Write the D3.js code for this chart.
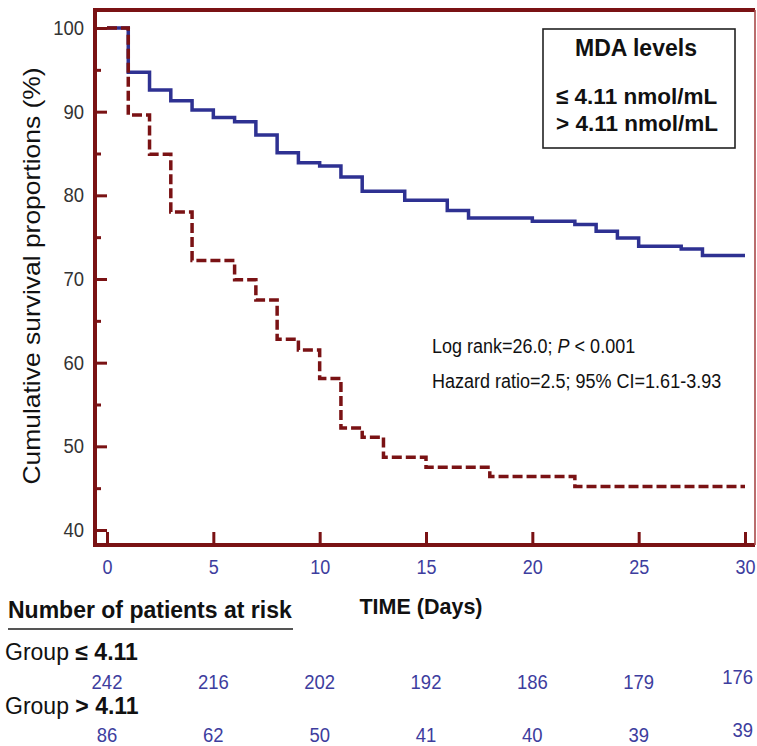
<!DOCTYPE html>
<html>
<head>
<meta charset="utf-8">
<script src="https://cdn.jsdelivr.net/npm/d3@7"></script>
<style>
  html, body { margin: 0; padding: 0; background: #fff; }
  svg { display: block; }
  text { font-family: "Liberation Sans", Arial, sans-serif; }
</style>
</head>
<body>
<svg id="chart" width="757" height="746"></svg>
<script>
// ---------------- data ----------------
const riskDays = [0, 5, 10, 15, 20, 25, 30];
const riskLow  = [242, 216, 202, 192, 186, 179, 176];
const riskHigh = [86, 62, 50, 41, 40, 39, 39];

const yTickValues = [40, 50, 60, 70, 80, 90, 100];
const yMinorValues = [45, 55, 65, 75, 85, 95];
const xTickValues = [0, 5, 10, 15, 20, 25, 30];

// Kaplan-Meier steps, group <= 4.11 nmol/mL
const lowTimes = [0, 1, 2, 3, 4, 5, 6, 7, 8, 9, 10, 11, 12, 14, 16, 17, 20, 22, 23, 24, 25, 27, 28, 30];
const lowSurv  = [100, 94.7, 92.6, 91.3, 90.2, 89.3, 88.8, 87.2, 85.1, 83.9, 83.5, 82.2, 80.5, 79.4, 78.2, 77.3, 76.9, 76.5, 75.7, 74.9, 73.9, 73.6, 72.8, 72.8];
// group > 4.11 nmol/mL
const highTimes = [0, 1, 2, 3, 4, 6, 7, 8, 9, 10, 11, 12, 13, 15, 18, 22, 30];
const highSurv  = [100, 89.6, 84.9, 78.0, 72.2, 69.9, 67.5, 62.8, 61.5, 58.1, 52.2, 51.1, 48.7, 47.5, 46.4, 45.2, 45.2];

const legendTitle = "MDA levels";
const legendLabels = ["\u2264 4.11 nmol/mL", "> 4.11 nmol/mL"];
const annotations = ["Log rank=26.0; ", "Hazard ratio=2.5; 95% CI=1.61-3.93"];

// ---------------- layout ----------------
const W = 757, H = 746;
const S = 1.12;               // vertical stretch of the original text
const frame = { left: 95, right: 755, top: 10, bottom: 545 };
const maroon = "#7a1214";
const navy = "#2e3192";
const tickBlue = "#3d3d9e";

const svg = d3.select("#chart");

const x = d3.scaleLinear().domain([0, 30]).range([107, 745]);
const y = d3.scaleLinear().domain([40, 100]).range([530, 28]);

function txt(px, py, str, o = {}) {
  const t = svg.append("text")
    .attr("transform", `translate(${px},${py}) scale(1,${o.s || S})${o.rot ? ` rotate(${o.rot})` : ""}`)
    .attr("font-size", o.size || 18)
    .attr("font-weight", o.weight || "normal")
    .attr("fill", o.fill || "#111")
    .attr("text-anchor", o.anchor || "start")
    .text(str);
  return t;
}

// ---------------- curves ----------------
const line = d3.line().curve(d3.curveStepAfter).x(d => x(d[0])).y(d => y(d[1]));

svg.append("path")
  .datum(lowTimes.map((t, i) => [t, lowSurv[i]]))
  .attr("d", line)
  .attr("fill", "none")
  .attr("stroke", navy)
  .attr("stroke-width", 3.5);

svg.append("path")
  .datum(highTimes.map((t, i) => [t, highSurv[i]]))
  .attr("d", line)
  .attr("fill", "none")
  .attr("stroke", maroon)
  .attr("stroke-width", 3.5)
  .attr("stroke-dasharray", "10,4");

// ---------------- axes ----------------
const yAxis = svg.append("g")
  .attr("transform", `translate(${frame.left},0)`)
  .call(d3.axisLeft(y).tickValues(yTickValues).tickSize(-12).tickPadding(11).tickFormat(d3.format("d")));
yAxis.select(".domain").remove();
yAxis.selectAll("line").attr("stroke", maroon).attr("stroke-width", 3);
yAxis.selectAll("text").attr("font-size", 18.5).attr("fill", "#333")
  .attr("font-family", "Liberation Sans, Arial, sans-serif")
  .attr("transform", `scale(1,${S})`);

const yMinor = svg.append("g")
  .attr("transform", `translate(${frame.left},0)`)
  .call(d3.axisLeft(y).tickValues(yMinorValues).tickSize(-6).tickFormat(""));
yMinor.select(".domain").remove();
yMinor.selectAll("line").attr("stroke", maroon).attr("stroke-width", 3);

const xAxis = svg.append("g")
  .attr("transform", `translate(0,${frame.bottom})`)
  .call(d3.axisBottom(x).tickValues(xTickValues).tickSize(-13).tickPadding(13).tickFormat(d3.format("d")));
xAxis.select(".domain").remove();
xAxis.selectAll("line").attr("stroke", maroon).attr("stroke-width", 3);
xAxis.selectAll("text").attr("font-size", 18).attr("fill", tickBlue)
  .attr("font-family", "Liberation Sans, Arial, sans-serif")
  .attr("transform", `scale(1,${S})`);

// ---------------- frame ----------------
svg.append("line").attr("x1", frame.left).attr("x2", frame.left).attr("y1", frame.top - 2).attr("y2", frame.bottom + 2)
  .attr("stroke", maroon).attr("stroke-width", 4);
svg.append("line").attr("x1", frame.left - 2).attr("x2", frame.right).attr("y1", frame.top).attr("y2", frame.top)
  .attr("stroke", maroon).attr("stroke-width", 4);
svg.append("line").attr("x1", frame.left - 2).attr("x2", frame.right).attr("y1", frame.bottom).attr("y2", frame.bottom)
  .attr("stroke", maroon).attr("stroke-width", 4);
svg.append("line").attr("x1", frame.right).attr("x2", frame.right).attr("y1", frame.top).attr("y2", frame.bottom)
  .attr("stroke", "#a84a4a").attr("stroke-width", 1.6);

// ---------------- legend ----------------
svg.append("rect").attr("x", 543).attr("y", 29).attr("width", 192).attr("height", 119)
  .attr("fill", "#fff").attr("stroke", "#222").attr("stroke-width", 1.6);
txt(636, 56, legendTitle, { size: 23, weight: "bold", anchor: "middle", s: 1.0 });
legendLabels.forEach((l, i) => txt(556, 104 + i * 27, l, { size: 22.5, weight: "bold", s: 1.0 }));

// ---------------- annotations ----------------
const a1 = txt(432, 353, annotations[0], { size: 18, fill: "#111" });
a1.append("tspan").attr("font-style", "italic").text("P");
a1.append("tspan").text(" < 0.001");
txt(432, 388, annotations[1], { size: 18, fill: "#111" });

// ---------------- titles ----------------
txt(40, 276, "Cumulative survival proportions (%)", { size: 23, anchor: "middle", rot: -90, s: 1.15 });
txt(421, 614, "TIME (Days)", { size: 21.5, weight: "bold", anchor: "middle", s: 1.0 });

// ---------------- risk table ----------------
txt(8, 618, "Number of patients at risk", { size: 23, weight: "bold", s: 1.0 });
svg.append("line").attr("x1", 8).attr("x2", 293).attr("y1", 629).attr("y2", 629)
  .attr("stroke", "#555").attr("stroke-width", 2);

const g1 = txt(5, 660, "Group ", { size: 23, s: 1.0 });
g1.append("tspan").attr("font-weight", "bold").text("\u2264 4.11");
const g2 = txt(5, 714, "Group ", { size: 23, s: 1.0 });
g2.append("tspan").attr("font-weight", "bold").text("> 4.11");

function riskRow(values, baseY) {
  values.forEach((v, i) => {
    const last = i === values.length - 1;
    const t = txt(0, 0, String(v), { size: 18.5, fill: tickBlue, anchor: "middle" });
    const len = t.node().getComputedTextLength();
    const cx = Math.min(x(riskDays[i]), W - 4 - len / 2);
    t.attr("transform", `translate(${cx},${baseY - (last ? 5 : 0)}) scale(1,${S})`);
  });
}
riskRow(riskLow, 689);
riskRow(riskHigh, 742);
</script>
</body>
</html>
